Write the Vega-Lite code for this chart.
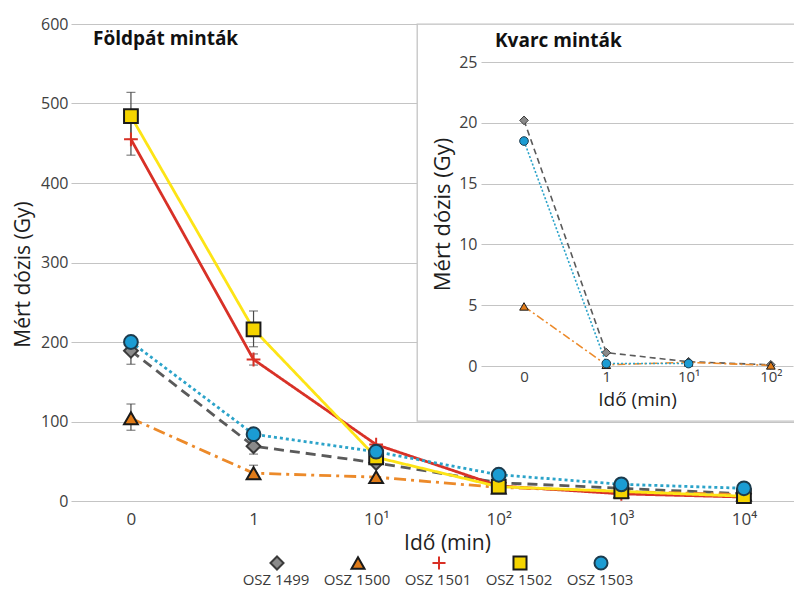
{
  "$schema": "https://vega.github.io/schema/vega-lite/v6.json",
  "background": "white",
  "padding": {"left": 12, "top": 16, "right": 0, "bottom": 0},
  "autosize": {"type": "pad"},
  "datasets": {
    "foldpat": [
      {"minta": "OSZ 1499", "ido": "0", "dozis": 189, "lo": 172, "hi": 189},
      {"minta": "OSZ 1499", "ido": "1", "dozis": 69, "lo": 59, "hi": 69},
      {"minta": "OSZ 1499", "ido": "10¹", "dozis": 48},
      {"minta": "OSZ 1499", "ido": "10²", "dozis": 23},
      {"minta": "OSZ 1499", "ido": "10³", "dozis": 16},
      {"minta": "OSZ 1499", "ido": "10⁴", "dozis": 9},
      {"minta": "OSZ 1500", "ido": "0", "dozis": 104, "lo": 89, "hi": 122},
      {"minta": "OSZ 1500", "ido": "1", "dozis": 35, "lo": 35, "hi": 45},
      {"minta": "OSZ 1500", "ido": "10¹", "dozis": 30},
      {"minta": "OSZ 1500", "ido": "10²", "dozis": 17},
      {"minta": "OSZ 1500", "ido": "10³", "dozis": 12},
      {"minta": "OSZ 1500", "ido": "10⁴", "dozis": 8},
      {"minta": "OSZ 1501", "ido": "0", "dozis": 455, "lo": 435, "hi": 475},
      {"minta": "OSZ 1501", "ido": "1", "dozis": 178, "lo": 171, "hi": 185},
      {"minta": "OSZ 1501", "ido": "10¹", "dozis": 71},
      {"minta": "OSZ 1501", "ido": "10²", "dozis": 19},
      {"minta": "OSZ 1501", "ido": "10³", "dozis": 9},
      {"minta": "OSZ 1501", "ido": "10⁴", "dozis": 5},
      {"minta": "OSZ 1502", "ido": "0", "dozis": 484, "lo": 455, "hi": 514},
      {"minta": "OSZ 1502", "ido": "1", "dozis": 216, "lo": 194, "hi": 239},
      {"minta": "OSZ 1502", "ido": "10¹", "dozis": 55},
      {"minta": "OSZ 1502", "ido": "10²", "dozis": 18},
      {"minta": "OSZ 1502", "ido": "10³", "dozis": 12},
      {"minta": "OSZ 1502", "ido": "10⁴", "dozis": 6},
      {"minta": "OSZ 1503", "ido": "0", "dozis": 200},
      {"minta": "OSZ 1503", "ido": "1", "dozis": 84},
      {"minta": "OSZ 1503", "ido": "10¹", "dozis": 62},
      {"minta": "OSZ 1503", "ido": "10²", "dozis": 33},
      {"minta": "OSZ 1503", "ido": "10³", "dozis": 21},
      {"minta": "OSZ 1503", "ido": "10⁴", "dozis": 16}
    ],
    "kvarc": [
      {"minta": "OSZ 1499", "ido": "0", "dozis": 20.2},
      {"minta": "OSZ 1499", "ido": "1", "dozis": 1.1},
      {"minta": "OSZ 1499", "ido": "10¹", "dozis": 0.35},
      {"minta": "OSZ 1499", "ido": "10²", "dozis": 0.1},
      {"minta": "OSZ 1500", "ido": "0", "dozis": 4.9},
      {"minta": "OSZ 1500", "ido": "1", "dozis": 0.1},
      {"minta": "OSZ 1500", "ido": "10¹", "dozis": 0.3},
      {"minta": "OSZ 1500", "ido": "10²", "dozis": 0.05},
      {"minta": "OSZ 1503", "ido": "0", "dozis": 18.5},
      {"minta": "OSZ 1503", "ido": "1", "dozis": 0.2},
      {"minta": "OSZ 1503", "ido": "10¹", "dozis": 0.2}
    ]
  },
  "hconcat": [
    {
      "width": 724,
      "height": 477,
      "title": {"text": "Földpát minták", "anchor": "start", "frame": "group", "offset": -48, "dx": 22, "fontSize": 19, "fontWeight": "bold", "font": "Open Sans", "color": "#111111", "baseline": "alphabetic"},
      "data": {"name": "foldpat"},
      "encoding": {
        "x": {
          "field": "ido", "type": "ordinal",
          "scale": {"type": "point", "domain": ["0", "1", "10¹", "10²", "10³", "10⁴"], "padding": 0.4527, "align": 0.54},
          "axis": {"title": "Idő (min)", "labelAngle": 0, "labelFontSize": 17, "labelPadding": 10, "titleFontSize": 21, "titlePadding": 5, "titleX": 376, "grid": false}
        }
      },
      "layer": [
        {
          "transform": [{"filter": "isValid(datum.lo)"}],
          "mark": {"type": "errorbar", "ticks": {"size": 9}, "color": "#4a4a4a", "thickness": 1.2},
          "encoding": {
            "y": {"field": "lo", "type": "quantitative", "title": "Mért dózis (Gy)", "scale": {"domain": [0, 600], "nice": false}},
            "y2": {"field": "hi"}
          }
        },
        {
          "mark": {"type": "line", "strokeWidth": 2.8},
          "encoding": {
            "y": {"field": "dozis", "type": "quantitative", "title": "Mért dózis (Gy)", "scale": {"domain": [0, 600], "nice": false},
                  "axis": {"values": [0, 100, 200, 300, 400, 500, 600], "labelFontSize": 16, "labelPadding": 3, "titleFontSize": 21, "titlePadding": 7, "titleY": 250, "grid": true}},
            "color": {"field": "minta", "type": "nominal", "legend": null,
                      "scale": {"range": ["#5a5a5a", "#ec8a2a", "#d83127", "#fde416", "#2ba3c9"]}},
            "strokeDash": {"field": "minta", "type": "nominal", "legend": null,
                      "scale": {"range": [[10, 6], [12, 5, 3, 5], [1, 0], [1, 0], [3, 3]]}}
          }
        },
        {
          "mark": {"type": "point", "filled": true, "size": 190, "strokeWidth": 2, "opacity": 1},
          "encoding": {
            "y": {"field": "dozis", "type": "quantitative", "title": "Mért dózis (Gy)"},
            "shape": {"field": "minta", "type": "nominal",
                      "scale": {"domain": ["OSZ 1499", "OSZ 1500", "OSZ 1501", "OSZ 1502", "OSZ 1503"], "range": ["diamond", "triangle-up", "M-1,0H1M0,-1V1", "square", "circle"]},
                      "legend": {"orient": "none", "legendX": 198, "legendY": 531, "direction": "horizontal", "title": null,
                                 "labelExpr": "['', '', datum.label]", "labelAlign": "center", "labelOffset": -9, "labelBaseline": "middle",
                                 "labelFontSize": 15, "labelColor": "#3a3a3a", "labelFont": "Open Sans", "symbolSize": 170, "symbolStrokeWidth": 2, "columnPadding": 13, "labelLimit": 0}},
            "fill": {"field": "minta", "type": "nominal",
                     "scale": {"domain": ["OSZ 1499", "OSZ 1500", "OSZ 1501", "OSZ 1502", "OSZ 1503"], "range": ["#8a8a8a", "#e07b18", "#d93a2a", "#f5d400", "#1b9cd3"]}},
            "stroke": {"field": "minta", "type": "nominal",
                       "scale": {"domain": ["OSZ 1499", "OSZ 1500", "OSZ 1501", "OSZ 1502", "OSZ 1503"], "range": ["#3b3b3b", "#1a1a1a", "#d93025", "#1a1a1a", "#1c3b4d"]}}
          }
        }
      ]
    },
    {
      "width": 378,
      "height": 397,
      "view": {"fill": "white", "stroke": "#c4c4c4", "strokeWidth": 1.3},
      "title": {"text": "Kvarc minták", "anchor": "start", "frame": "group", "offset": -42, "dx": 78, "fontSize": 19, "fontWeight": "bold", "font": "Open Sans", "color": "#111111", "baseline": "alphabetic"},
      "data": {"name": "kvarc"},
      "encoding": {
        "x": {
          "field": "ido", "type": "ordinal",
          "scale": {"type": "point", "domain": ["0", "1", "10¹", "10²"], "range": [64, 376], "padding": 0.396, "align": 0.66},
          "axis": {"orient": "bottom", "offset": -55, "title": "Idő (min)", "labelAngle": 0, "labelFontSize": 15, "labelPadding": 3, "titleFontSize": 19, "titlePadding": 6, "grid": false}
        },
        "y": {
          "field": "dozis", "type": "quantitative",
          "scale": {"domain": [0, 25], "nice": false, "range": [342, 38]},
          "axis": {"orient": "left", "offset": -64, "values": [0, 5, 10, 15, 20, 25], "title": "Mért dózis (Gy)", "titleFontSize": 22, "labelFontSize": 16, "labelPadding": 4, "titlePadding": 4, "grid": true}
        }
      },
      "layer": [
        {
          "mark": {"type": "line", "strokeWidth": 1.6},
          "encoding": {
            "color": {"field": "minta", "type": "nominal", "legend": null,
                      "scale": {"domain": ["OSZ 1499", "OSZ 1500", "OSZ 1503"], "range": ["#5a5a5a", "#ec8a2a", "#2ba3c9"]}},
            "strokeDash": {"field": "minta", "type": "nominal", "legend": null,
                      "scale": {"domain": ["OSZ 1499", "OSZ 1500", "OSZ 1503"], "range": [[6, 4], [8, 3, 2, 3], [2, 2]]}}
          }
        },
        {
          "mark": {"type": "point", "filled": true, "size": 75, "strokeWidth": 1, "opacity": 1},
          "encoding": {
            "shape": {"field": "minta", "type": "nominal", "legend": null,
                      "scale": {"domain": ["OSZ 1499", "OSZ 1500", "OSZ 1503"], "range": ["diamond", "triangle-up", "circle"]}},
            "fill": {"field": "minta", "type": "nominal", "legend": null,
                     "scale": {"domain": ["OSZ 1499", "OSZ 1500", "OSZ 1503"], "range": ["#8a8a8a", "#e07b18", "#1b9cd3"]}},
            "stroke": {"field": "minta", "type": "nominal", "legend": null,
                       "scale": {"domain": ["OSZ 1499", "OSZ 1500", "OSZ 1503"], "range": ["#3b3b3b", "#1a1a1a", "#1c3b4d"]}}
          }
        }
      ]
    }
  ],
  "resolve": {
    "scale": {"color": "independent", "strokeDash": "independent", "shape": "independent", "fill": "independent", "stroke": "independent"},
    "legend": {"color": "independent", "strokeDash": "independent", "shape": "independent", "fill": "independent", "stroke": "independent"}
  },
  "spacing": -378,
  "bounds": "flush",
  "align": "none",
  "config": {
    "font": "Open Sans",
    "view": {"stroke": null},
    "axis": {"domain": false, "ticks": false, "labelFont": "Open Sans", "titleFont": "Open Sans", "labelColor": "#404040", "titleColor": "#1e1e1e", "titleFontWeight": "normal", "gridColor": "#c4c4c4", "gridWidth": 1.2}
  }
}
